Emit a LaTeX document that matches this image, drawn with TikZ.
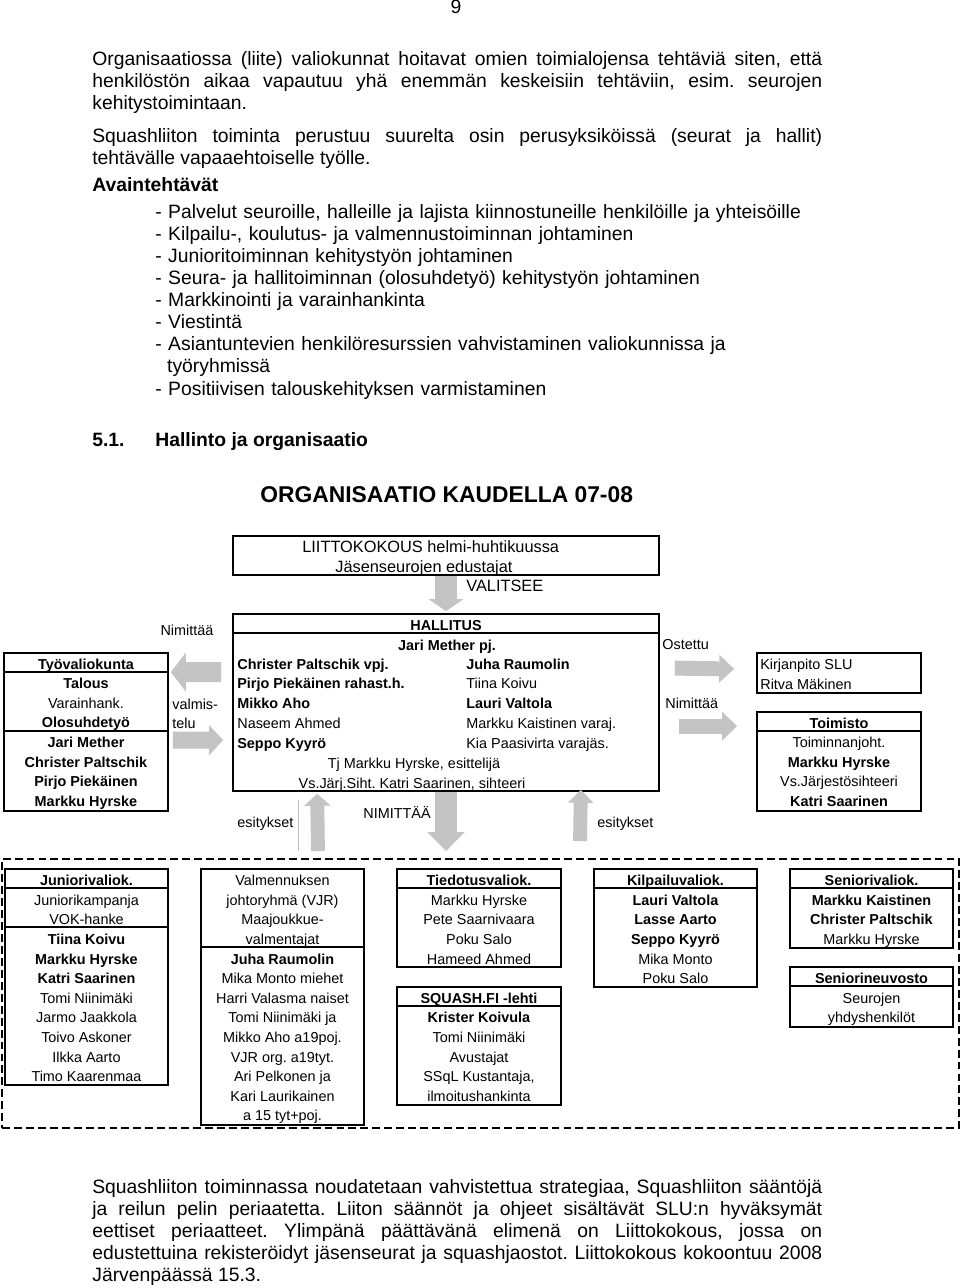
\documentclass[tikz,border=0pt]{standalone}
\usepackage{fontspec}
\setmainfont{Liberation Sans}
\usetikzlibrary{arrows.meta,calc,fit}
\frenchspacing

\definecolor{arrowgray}{RGB}{196,196,196}
\newcommand{\cf}{\fontsize{8.2}{11}\selectfont}
\newcommand{\lf}{\fontsize{9.3}{11}\selectfont}
\newcommand{\bodyf}{\fontsize{11}{12.6}\selectfont}
% one divider line inside a box, #2 px below its top
\newcommand{\divline}[2]{\draw[boxline] ($(#1.north west)+(0,#2)$) -- ($(#1.north east)+(0,#2)$);}
% a centred column of rows: name, x, first baseline, rows
\newcommand{\orgcol}[4]{\foreach \t [count=\i from 0] in {#4} \node[cell] (#1-\i) at (#2,{#3+19.6*\i}) {\t};}

\tikzset{
  boxline/.style={line width=1pt},
  orgbox/.style={draw, line width=1pt, inner sep=0pt},
  cell/.style={anchor=base, inner sep=0pt, font=\cf},
  lcell/.style={anchor=base west, inner sep=0pt, font=\cf},
  para/.style={anchor=base west, inner sep=0pt, text width=14.6cm, align=justify, font=\bodyf},
  bigarrow/.style args={#1/#2/#3}{draw=arrowgray, line width=#1, -{Triangle[width=#2, length=#3, line width=0pt]}}
}

\begin{document}
\begin{tikzpicture}[x=0.02cm, y=-0.02cm]
\fill[white] (0,0) rectangle (960,1288);
\useasboundingbox (0,0) rectangle (960,1288);

% page text
\node[anchor=base, inner sep=0pt, font=\bodyf] (pnum) at (456,13) {9};
\node[para] (p1) at (92,65) {Organisaatiossa (liite) valiokunnat hoitavat omien toimialojensa tehtäviä siten, että\linebreak henkilöstön aikaa vapautuu yhä enemmän keskeisiin tehtäviin, esim. seurojen\linebreak kehitystoimintaan.};
\node[para] (p2) at (92,142) {Squashliiton toiminta perustuu suurelta osin perusyksiköissä (seurat ja hallit)\linebreak tehtävälle vapaaehtoiselle työlle.};
\node[anchor=base west, inner sep=0pt, font=\bodyf\bfseries] (avain) at (92,191) {Avaintehtävät};
\node[anchor=base west, inner sep=0pt, text width=13.5cm, align=left, font=\bodyf] (tasks) at (155,218) {%
- Palvelut seuroille, halleille ja lajista kiinnostuneille henkilöille ja yhteisöille\\
- Kilpailu-, koulutus- ja valmennustoiminnan johtaminen\\
- Junioritoiminnan kehitystyön johtaminen\\
- Seura- ja hallitoiminnan (olosuhdetyö) kehitystyön johtaminen\\
- Markkinointi ja varainhankinta\\
- Viestintä\\
- Asiantuntevien henkilöresurssien vahvistaminen valiokunnissa ja\\
\hspace*{0.61em}työryhmissä\\
- Positiivisen talouskehityksen varmistaminen};
\node[anchor=base west, inner sep=0pt, font=\bodyf\bfseries] (secno) at (92,446) {5.1.};
\node[anchor=base west, inner sep=0pt, font=\bodyf\bfseries] (sec) at (155,446) {Hallinto ja organisaatio};
\node[anchor=base west, inner sep=0pt, font=\fontsize{13}{15}\selectfont\bfseries] (title) at (260,502) {ORGANISAATIO KAUDELLA 07-08};

% boxes
\node[orgbox, fit={(233,536) (659,575)}] (liitto) {};
\node[orgbox, fit={(233,614) (659,791)}] (hall) {};
\node[orgbox, fit={(4,653) (168,811)}] (tyo) {};
\node[orgbox, fit={(757,653) (921,693)}] (kirj) {};
\node[orgbox, fit={(757,712) (921,811)}] (toim) {};
\node[draw, line width=0.8pt, dash pattern=on 4.5pt off 2.3pt, inner sep=0pt, fit={(2,859) (959,1128)}] (valiok) {};
\node[orgbox, fit={(5,869) (168,1085)}] (jun) {};
\node[orgbox, fit={(201,869) (364,1125)}] (valm) {};
\node[orgbox, fit={(397,869) (561,967)}] (tied) {};
\node[orgbox, fit={(397,987) (561,1105)}] (sq) {};
\node[orgbox, fit={(594,869) (757,987)}] (kilp) {};
\node[orgbox, fit={(790,869) (953,948)}] (sen) {};
\node[orgbox, fit={(790,967) (953,1027)}] (senn) {};
\divline{hall}{20}
\divline{tyo}{20} \divline{tyo}{79}
\divline{toim}{20}
\divline{jun}{20} \divline{jun}{59}
\divline{valm}{79}
\divline{tied}{20} \divline{sq}{20} \divline{kilp}{20}
\divline{sen}{20} \divline{senn}{20}

% block arrows
\coordinate (esl) at (318,851);
\coordinate (nim) at (446,851);
\coordinate (esr) at (580,841);
\draw[bigarrow=12.5pt/19.8pt/6.8pt] (liitto.south) -- ($(hall.north)+(0,-2)$);
\draw[bigarrow=11.3pt/22.1pt/8.5pt] ($(hall.north west)+(-11,59)$) -- ($(tyo.north east)+(2,20)$);
\draw[bigarrow=9.6pt/17pt/7.9pt] ($(tyo.north east)+(4,88)$) -- ($(hall.north west)+(-9,127)$);
\draw[bigarrow=8.5pt/15.9pt/8.5pt] ($(hall.north east)+(15,55)$) -- ($(kirj.west)+(-22,-4)$);
\draw[bigarrow=8.5pt/16.4pt/8.5pt] ($(hall.north east)+(19,113)$) -- ($(toim.north west)+(-19,15)$);
\draw[bigarrow=7.9pt/15.3pt/6.8pt] (esl) -- ($(hall.south west)+(85,2)$);
\draw[bigarrow=12.5pt/21.5pt/10.8pt] (hall.south) -- (nim);
\draw[bigarrow=7.9pt/14.7pt/7.4pt] (esr) -- ($(hall.south east)+(-79,-2)$);
\draw[gray!50, line width=0.4pt] (298,800) -- (298,851);

% LIITTOKOKOUS
\node[lcell, font=\lf] (l1) at (302,552) {LIITTOKOKOUS helmi-huhtikuussa};
\node[lcell, font=\lf] (l2) at (335,572) {Jäsenseurojen edustajat};
\node[lcell, font=\lf] (l3) at (466,591) {VALITSEE};

% HALLITUS
\node[cell, font=\cf\bfseries] (h0) at (446,630) {HALLITUS};
\node[cell, font=\cf\bfseries] (h1) at (447,650) {Jari Mether pj.};
\foreach \t [count=\i from 0] in {\textbf{Christer Paltschik vpj.}, \textbf{Pirjo Piekäinen rahast.h.}, \textbf{Mikko Aho}, Naseem Ahmed, \textbf{Seppo Kyyrö}}
  \node[lcell] (hl-\i) at (237,{669+19.75*\i}) {\t};
\foreach \t [count=\i from 0] in {\textbf{Juha Raumolin}, Tiina Koivu, \textbf{Lauri Valtola}, Markku Kaistinen varaj., Kia Paasivirta varajäs.}
  \node[lcell] (hr-\i) at (466,{669+19.75*\i}) {\t};
\node[cell] (h2) at (414,768) {Tj Markku Hyrske, esittelijä};
\node[cell] (h3) at (412,788) {Vs.Järj.Siht. Katri Saarinen, sihteeri};

% sides
\orgcol{ty}{86}{669}{\textbf{Työvaliokunta}, \textbf{Talous}, Varainhank., \textbf{Olosuhdetyö}, \textbf{Jari Mether}, \textbf{Christer Paltschik}, \textbf{Pirjo Piekäinen}, \textbf{Markku Hyrske}}
\orgcol{to}{839}{728}{\textbf{Toimisto}, Toiminnanjoht., \textbf{Markku Hyrske}, Vs.Järjestösihteeri, \textbf{Katri Saarinen}}
\node[lcell] (k1) at (760,669) {Kirjanpito SLU};
\node[lcell] (k2) at (760,689) {Ritva Mäkinen};

% labels
\node[cell] (nimL) at (187,635) {Nimittää};
\node[lcell] (valmis) at (172,709) {valmis-};
\node[lcell] (telu) at (172,728) {telu};
\node[lcell] (ost) at (662,649) {Ostettu};
\node[lcell] (nimR) at (665,708) {Nimittää};
\node[lcell] (esL) at (237,827) {esitykset};
\node[cell] (nimD) at (397,818) {NIMITTÄÄ};
\node[lcell] (esR) at (597,827) {esitykset};

% valiokunnat
\orgcol{ju}{86.5}{885.7}{\textbf{Juniorivaliok.}, Juniorikampanja, VOK-hanke, \textbf{Tiina Koivu}, \textbf{Markku Hyrske}, \textbf{Katri Saarinen}, Tomi Niinimäki, Jarmo Jaakkola, Toivo Askoner, Ilkka Aarto, Timo Kaarenmaa}
\orgcol{va}{282.5}{885.7}{Valmennuksen, johtoryhmä (VJR), Maajoukkue-, valmentajat, \textbf{Juha Raumolin}, Mika Monto miehet, Harri Valasma naiset, Tomi Niinimäki ja, Mikko Aho a19poj., VJR org. a19tyt., Ari Pelkonen ja, Kari Laurikainen, a 15 tyt+poj.}
\orgcol{ti}{479}{885.7}{\textbf{Tiedotusvaliok.}, Markku Hyrske, Pete Saarnivaara, Poku Salo, Hameed Ahmed}
\orgcol{sf}{479}{1003.2}{\textbf{SQUASH.FI -lehti}, \textbf{Krister Koivula}, Tomi Niinimäki, Avustajat, {SSqL Kustantaja,}, ilmoitushankinta}
\orgcol{ki}{675.5}{885.7}{\textbf{Kilpailuvaliok.}, \textbf{Lauri Valtola}, \textbf{Lasse Aarto}, \textbf{Seppo Kyyrö}, Mika Monto, Poku Salo}
\orgcol{se}{871.5}{885.7}{\textbf{Seniorivaliok.}, \textbf{Markku Kaistinen}, \textbf{Christer Paltschik}, Markku Hyrske}
\orgcol{sn}{871.5}{983.6}{\textbf{Seniorineuvosto}, Seurojen, yhdyshenkilöt}

\node[para] (p3) at (92,1193) {Squashliiton toiminnassa noudatetaan vahvistettua strategiaa, Squashliiton sääntöjä\linebreak ja reilun pelin periaatetta. Liiton säännöt ja ohjeet sisältävät SLU:n hyväksymät\linebreak eettiset periaatteet. Ylimpänä päättävänä elimenä on Liittokokous, jossa on\linebreak edustettuina rekisteröidyt jäsenseurat ja squashjaostot. Liittokokous kokoontuu 2008\linebreak Järvenpäässä 15.3.};
\end{tikzpicture}
\end{document}
